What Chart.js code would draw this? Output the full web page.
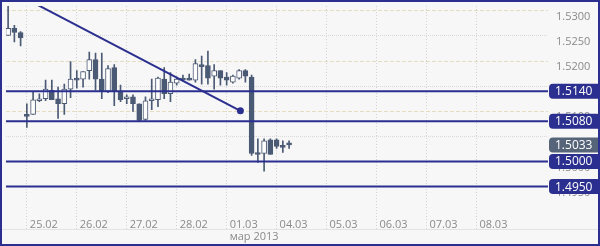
<!DOCTYPE html>
<html>
<head>
<meta charset="utf-8">
<script src="https://cdn.jsdelivr.net/npm/chart.js@4.4.0/dist/chart.umd.min.js"></script>
<style>
  html, body { margin: 0; padding: 0; background: #f7f7f7; }
  .chart-wrap { width: 600px; height: 246px; box-sizing: border-box; border: 2px solid #2b2f8f; background: #f7f7f7; }
  canvas { display: block; }
</style>
</head>
<body>
<div class="chart-wrap"><canvas id="priceChart" width="596" height="242"></canvas></div>
<script>
// 3h candles, index 0 = 24.02 15:00, index 3 = 25.02 00:00 (weekend skipped)
const candleIdx = [0, 1, 2, 3, 4, 5, 6, 7, 8, 9, 10, 11, 12, 13, 14, 15, 16, 17, 18, 19, 20, 21, 22,
  23, 24, 25, 26, 27, 28, 29, 30, 31, 32, 33, 34, 35, 36, 37, 38, 39, 40, 41, 42, 43, 44, 45];
const opens  = [1.5251, 1.5265, 1.5257, 1.5094, 1.5094, 1.5121, 1.5125, 1.5142, 1.5125, 1.5115, 1.5144, 1.5166,
  1.5164, 1.5181, 1.5203, 1.5164, 1.5140, 1.5187, 1.5138, 1.5125, 1.5129, 1.5115, 1.5084, 1.5121,
  1.5123, 1.5164, 1.5135, 1.5156, 1.5166, 1.5166, 1.5162, 1.5193, 1.5191, 1.5170, 1.5181, 1.5168,
  1.5158, 1.5166, 1.5181, 1.5168, 1.5018, 1.5016, 1.5043, 1.5043, 1.5031, 1.5034];
const highs  = [1.5318, 1.5271, 1.5259, 1.5115, 1.5138, 1.5135, 1.5162, 1.5162, 1.5148, 1.5154, 1.5199, 1.5181,
  1.5179, 1.5218, 1.5216, 1.5216, 1.5191, 1.5193, 1.5152, 1.5133, 1.5133, 1.5115, 1.5129, 1.5164,
  1.5168, 1.5187, 1.5177, 1.5168, 1.5172, 1.5174, 1.5203, 1.5210, 1.5220, 1.5193, 1.5181, 1.5177,
  1.5172, 1.5183, 1.5183, 1.5172, 1.5045, 1.5045, 1.5045, 1.5045, 1.5041, 1.5041];
const lows   = [1.5251, 1.5238, 1.5230, 1.5068, 1.5094, 1.5119, 1.5121, 1.5123, 1.5086, 1.5094, 1.5127, 1.5146,
  1.5148, 1.5164, 1.5142, 1.5125, 1.5137, 1.5111, 1.5119, 1.5115, 1.5100, 1.5080, 1.5082, 1.5103,
  1.5109, 1.5125, 1.5119, 1.5152, 1.5160, 1.5162, 1.5158, 1.5154, 1.5154, 1.5144, 1.5152, 1.5152,
  1.5156, 1.5164, 1.5158, 1.5012, 1.4998, 1.4981, 1.5014, 1.5026, 1.5018, 1.5026];
const closes = [1.5265, 1.5257, 1.5246, 1.5090, 1.5123, 1.5125, 1.5144, 1.5123, 1.5115, 1.5144, 1.5164, 1.5162,
  1.5179, 1.5203, 1.5164, 1.5140, 1.5185, 1.5140, 1.5123, 1.5129, 1.5115, 1.5082, 1.5121, 1.5125,
  1.5166, 1.5135, 1.5158, 1.5164, 1.5162, 1.5162, 1.5195, 1.5189, 1.5166, 1.5181, 1.5166, 1.5162,
  1.5170, 1.5181, 1.5170, 1.5016, 1.5014, 1.5041, 1.5014, 1.5030, 1.5028, 1.5033];

const dayTicks = [3, 11, 19, 27, 35, 43, 51, 59, 67, 75];
const dayLabels = ['25.02', '26.02', '27.02', '28.02', '01.03', '04.03', '05.03', '06.03', '07.03', '08.03'];
const monthTicks = [35];
const monthLabels = ['мар 2013'];
const priceTicks = [1.4950, 1.5000, 1.5050, 1.5100, 1.5150, 1.5200, 1.5250, 1.5300];
const levels = [1.5140, 1.5080, 1.5000, 1.4950];
const lastPrice = 1.5033;
const trendX = [4.4, 37.2];
const trendY = [1.5314, 1.5101];

const xMin = -0.34, xMax = 86.47;
const yMin = 1.4866, yMax = 1.53097;

const navy = '#2b2f8f';
const slate = '#4b5a74';
const tickFont = { family: 'Open Sans', size: 11 };

const levelSets = levels.map(function (lv) {
  return {
    type: 'line',
    data: [{ x: xMin, y: lv }, { x: xMax, y: lv }],
    borderColor: navy,
    borderWidth: 2,
    pointRadius: 0,
    order: 1
  };
});

const badges = {
  id: 'badges',
  beforeDatasetsDraw(chart) {
    // light line under the chart, full width
    const ctx = chart.ctx, a = chart.chartArea;
    ctx.save();
    ctx.strokeStyle = '#e3e3e3';
    ctx.lineWidth = 1;
    ctx.beginPath();
    ctx.moveTo(0, Math.round(a.bottom) + 0.5);
    ctx.lineTo(chart.width, Math.round(a.bottom) + 0.5);
    ctx.stroke();
    ctx.restore();
  },
  afterDraw(chart) {
    const ctx = chart.ctx, a = chart.chartArea, y = chart.scales.y;
    function badge(v, fill) {
      const py = y.getPixelForValue(v);
      ctx.save();
      ctx.fillStyle = fill;
      ctx.beginPath();
      ctx.roundRect(a.right + 1, py - 7.5, chart.width - a.right + 2, 15, 4);
      ctx.fill();
      ctx.fillStyle = '#ffffff';
      ctx.font = '12px "Open Sans"';
      ctx.textBaseline = 'middle';
      ctx.fillText(v.toFixed(4), a.right + 7, py + 0.5);
      ctx.restore();
    }
    levels.forEach(function (lv) { badge(lv, navy); });
    badge(lastPrice, '#56647a');
  }
};

const isMajor = v => Math.abs(v * 100 - Math.round(v * 100)) < 1e-6;

const ctx = document.getElementById('priceChart').getContext('2d');
const priceChart = new Chart(ctx, {
  type: 'bar',
  data: {
    datasets: levelSets.concat([
      {
        type: 'line',
        data: trendX.map((x, i) => ({ x: x, y: trendY[i] })),
        borderColor: navy,
        backgroundColor: navy,
        borderWidth: 2,
        pointRadius: c => c.dataIndex === 1 ? 3.5 : 0,
        pointBorderWidth: 0,
        order: 0
      },
      {
        // candle bodies
        data: candleIdx.map(i => ({ x: i, y: [opens[i], closes[i]] })),
        backgroundColor: c => closes[c.dataIndex] > opens[c.dataIndex] ? '#ffffff' : slate,
        borderColor: slate,
        borderWidth: 1,
        borderSkipped: false,
        barThickness: 5,
        minBarLength: 2,
        grouped: false,
        order: 2
      },
      {
        // wicks
        data: candleIdx.map(i => ({ x: i, y: [lows[i], highs[i]] })),
        backgroundColor: slate,
        barThickness: 1,
        grouped: false,
        order: 3
      }
    ])
  },
  options: {
    responsive: false,
    animation: false,
    layout: { padding: 0 },
    plugins: { legend: { display: false }, tooltip: { enabled: false } },
    scales: {
      x: {
        type: 'linear',
        min: xMin,
        max: xMax,
        offset: false,
        afterBuildTicks: s => { s.ticks = dayTicks.map(v => ({ value: v })); },
        afterFit: s => { s.height = 0; },
        grid: { color: '#d4d4d4', drawTicks: false, offset: false },
        border: { display: false, dash: [1, 2] },
        ticks: {
          autoSkip: false, maxRotation: 0, mirror: true, align: 'start',
          labelOffset: 3, padding: -3, color: '#8a8a8a', font: tickFont,
          callback: (v, i) => dayLabels[i]
        }
      },
      x2: {
        type: 'linear',
        position: 'bottom',
        min: xMin,
        max: xMax,
        offset: false,
        afterBuildTicks: s => { s.ticks = monthTicks.map(v => ({ value: v })); },
        grid: { display: false, drawTicks: false, offset: false },
        border: { display: false },
        ticks: {
          autoSkip: false, maxRotation: 0, align: 'start', labelOffset: 3, padding: 1,
          color: '#8a8a8a', font: tickFont,
          callback: (v, i) => monthLabels[i]
        }
      },
      y: {
        position: 'right',
        min: yMin,
        max: yMax,
        afterBuildTicks: s => { s.ticks = priceTicks.map(v => ({ value: v })); },
        afterFit: s => { s.width = 50; s.paddingTop = 0; s.paddingBottom = 0; },
        grid: {
          color: c => isMajor(c.tick.value) ? '#e6dcbf' : '#dadada',
          drawTicks: false
        },
        border: { display: false, dash: c => isMajor(c.tick.value) ? [4, 2] : [1, 1] },
        ticks: {
          labelOffset: 6, padding: 8, color: '#8a8a8a', font: tickFont,
          callback: v => v.toFixed(4)
        }
      }
    }
  },
  plugins: [badges]
});
</script>
</body>
</html>
